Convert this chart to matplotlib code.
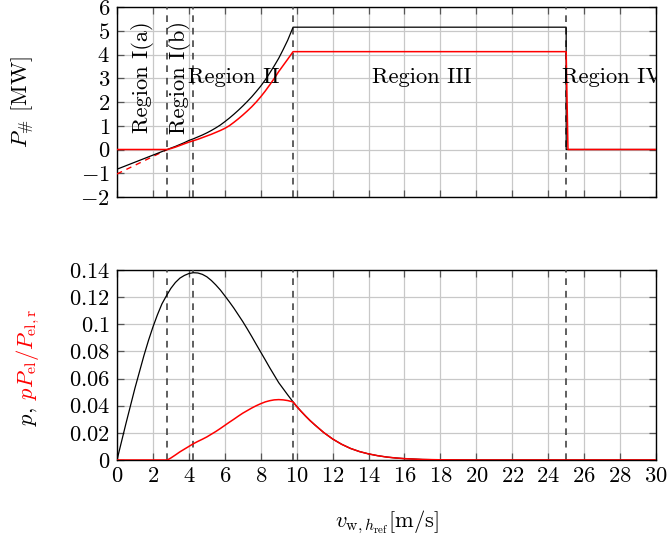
import matplotlib
matplotlib.use("Agg")
import matplotlib.pyplot as plt
from matplotlib.ticker import MultipleLocator, FuncFormatter

plt.rcParams['font.family'] = 'serif'
plt.rcParams['font.serif'] = ['cmr10']
plt.rcParams['mathtext.fontset'] = 'cm'
plt.rcParams['axes.formatter.use_mathtext'] = True
FS = 16.2

# region boundaries [m/s]
v_bounds = [2.8, 4.25, 9.8, 25.0]

# top plot: power curves [MW]
v_top_black = [0, 2.8, 3, 3.25, 3.5, 3.75, 4, 4.25, 4.5, 4.75, 5, 5.25, 5.5, 5.75, 6, 6.25,
               6.5, 6.75, 7, 7.25, 7.5, 7.75, 8, 8.25, 8.5, 8.75, 9, 9.25, 9.5, 9.8,
               25, 25, 30]
P_top_black = [-0.83, 0, 0.06, 0.13, 0.21, 0.29, 0.38, 0.45, 0.53, 0.61, 0.70, 0.80, 0.91,
               1.03, 1.17, 1.32, 1.48, 1.65, 1.83, 2.02, 2.22, 2.44, 2.67, 2.93, 3.22, 3.52,
               3.84, 4.21, 4.60, 5.15, 5.15, 0, 0]
v_top_red = [0, 2.8, 3, 3.25, 3.5, 3.75, 4, 4.25, 4.5, 4.75, 5, 5.25, 5.5, 5.75, 6, 6.25,
             6.5, 6.75, 7, 7.25, 7.5, 7.75, 8, 8.25, 8.5, 8.75, 9, 9.25, 9.5, 9.8,
             25, 25.1, 30]
P_top_red = [0, 0, 0.04, 0.10, 0.17, 0.24, 0.31, 0.37, 0.43, 0.50, 0.57, 0.64, 0.72, 0.80,
             0.89, 1.00, 1.14, 1.29, 1.45, 1.62, 1.80, 2.00, 2.22, 2.46, 2.72, 2.99, 3.28,
             3.54, 3.80, 4.12, 4.12, 0, 0]
v_top_ext = [0, 2.8]
P_top_ext = [-1.03, 0]

# bottom plot: wind speed probability (black) and weighted power (red)
v_pdf = [0, 0.25, 0.5, 0.75, 1, 1.25, 1.5, 1.75, 2, 2.25, 2.5, 2.75, 3, 3.25, 3.5, 3.75,
         4, 4.25, 4.5, 4.75, 5, 5.25, 5.5, 5.75, 6, 6.25, 6.5, 6.75, 7, 7.25, 7.5, 7.75,
         8, 8.25, 8.5, 8.75, 9, 9.25, 9.5, 9.8, 10, 10.25, 10.5, 10.75, 11, 11.5, 12,
         12.5, 13, 13.5, 14, 14.5, 15, 15.5, 16, 17, 18, 19, 20, 30]
p_pdf = [0, 0.0135, 0.027, 0.040, 0.053, 0.065, 0.077, 0.088, 0.098, 0.107, 0.115, 0.121,
         0.1265, 0.1308, 0.134, 0.136, 0.1374, 0.138, 0.1378, 0.1368, 0.135, 0.1323, 0.129,
         0.1253, 0.121, 0.1166, 0.112, 0.107, 0.102, 0.0966, 0.091, 0.0852, 0.0795, 0.0738,
         0.068, 0.0625, 0.057, 0.0525, 0.048, 0.0428, 0.0395, 0.0358, 0.0323, 0.029, 0.026,
         0.0203, 0.0155, 0.0116, 0.0085, 0.0062, 0.0045, 0.0032, 0.0022, 0.0015, 0.001,
         0.0004, 0.00015, 0.00005, 0, 0]
v_pe = [0, 2.8, 3, 3.25, 3.5, 3.75, 4, 4.25, 4.5, 4.75, 5, 5.25, 5.5, 5.75, 6, 6.25, 6.5,
        6.75, 7, 7.25, 7.5, 7.75, 8, 8.25, 8.5, 8.75, 9, 9.25, 9.5, 9.8, 10, 10.25, 10.5,
        10.75, 11, 11.5, 12, 12.5, 13, 13.5, 14, 14.5, 15, 15.5, 16, 17, 18, 19, 20, 30]
p_pe = [0, 0, 0.0015, 0.0037, 0.006, 0.008, 0.010, 0.012, 0.0137, 0.0153, 0.017, 0.019,
        0.021, 0.0232, 0.0255, 0.0278, 0.030, 0.0323, 0.0345, 0.0364, 0.0383, 0.040, 0.0415,
        0.0428, 0.0437, 0.0443, 0.0445, 0.0443, 0.0438, 0.0428, 0.0395, 0.0358, 0.0323,
        0.029, 0.026, 0.0203, 0.0155, 0.0116, 0.0085, 0.0062, 0.0045, 0.0032, 0.0022,
        0.0015, 0.001, 0.0004, 0.00015, 0.00005, 0, 0]

regions = [("Region I(a)", 1.4, 3.05, 90, 'center'),
           ("Region I(b)", 3.5, 3.05, 90, 'center'),
           ("Region II", 6.5, 3.05, 0, 'center'),
           ("Region III", 16.95, 3.05, 0, 'center'),
           ("Region IV", 24.75, 3.05, 0, 'left')]

W, H = 668, 539
fig = plt.figure(figsize=(W / 100, H / 100), dpi=100)
ax1 = fig.add_axes([117 / W, 1 - 197 / H, 539 / W, 190 / H])
ax2 = fig.add_axes([117 / W, 1 - 460 / H, 539 / W, 190 / H])


def fmt(v, pos):
    return f"${v:g}$"


for ax in (ax1, ax2):
    ax.set_xlim(0, 30)
    ax.xaxis.set_major_locator(MultipleLocator(2))
    ax.grid(True, color='#c8c8c8', lw=0.9)
    ax.set_axisbelow(True)
    ax.tick_params(direction='in', top=True, right=True, length=5, width=0.9,
                   color='#555555', labelsize=FS, pad=5)
    for s in ax.spines.values():
        s.set_linewidth(1.0)
    for vb in v_bounds:
        ax.axvline(vb, color='#444444', lw=1.2, dashes=(4, 3.5), zorder=3)
    ax.yaxis.set_major_formatter(FuncFormatter(fmt))
    ax.xaxis.set_major_formatter(FuncFormatter(fmt))

# top
ax1.set_ylim(-2, 6)
ax1.yaxis.set_major_locator(MultipleLocator(1))
ax1.tick_params(labelbottom=False)
ax1.plot(v_top_ext, P_top_ext, color='red', lw=1.0, dashes=(4, 3.5), zorder=4)
ax1.plot(v_top_black, P_top_black, color='black', lw=0.9, zorder=4)
ax1.plot(v_top_red, P_top_red, color='red', lw=1.1, zorder=5)
for txt, x, y, rot, ha in regions:
    ax1.text(x, y, txt, rotation=rot, ha=ha, va='center', fontsize=FS, clip_on=True, zorder=6)

fig.text(28 / W, 1 - 102 / H, r'$P_{\#}$ [MW]', rotation=90, rotation_mode='anchor',
         ha='center', va='baseline', fontsize=FS)

# bottom
ax2.set_ylim(0, 0.14)
ax2.yaxis.set_major_locator(MultipleLocator(0.02))
ax2.plot(v_pdf, p_pdf, color='black', lw=0.9, zorder=4)
ax2.plot(v_pe, p_pe, color='red', lw=1.1, zorder=5)
ax2.set_xlabel(r'$v_{\mathrm{w},h_{\mathrm{ref}}}$[m/s]', fontsize=FS, labelpad=16)

t1 = fig.text(0, 0, r'$p$,', rotation=90, rotation_mode='anchor', ha='left',
              va='baseline', fontsize=FS, color='black')
t2 = fig.text(0, 0, r'$pP_{\mathrm{el}}/P_{\mathrm{el,r}}$', rotation=90,
              rotation_mode='anchor', ha='left', va='baseline', fontsize=FS, color='red')
fig.canvas.draw()
r = fig.canvas.get_renderer()
h1 = t1.get_window_extent(r).height
h2 = t2.get_window_extent(r).height
gap = 0.33 * FS * 100 / 72
yc = H - 367
y0 = yc - (h1 + gap + h2) / 2
t1.set_position((33 / W, y0 / H))
t2.set_position((33 / W, (y0 + h1 + gap) / H))

fig.savefig('out.png', dpi=100)
